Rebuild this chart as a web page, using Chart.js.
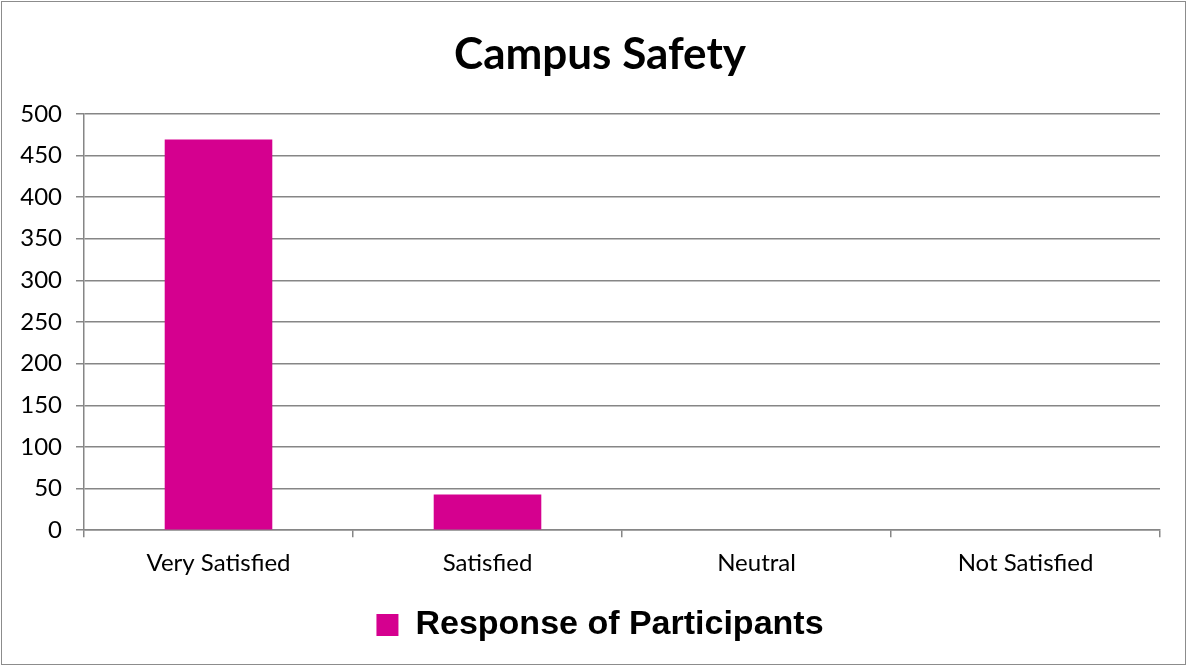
<!DOCTYPE html>
<html>
<head>
<meta charset="utf-8">
<script src="https://cdn.jsdelivr.net/npm/chart.js@4/dist/chart.umd.min.js"></script>
<style>
  html, body { margin: 0; padding: 0; background: #fff; }
  #wrap { width: 1187px; height: 666px; position: relative; }
</style>
</head>
<body>
<div id="wrap"><canvas id="c" width="1187" height="666"></canvas></div>
<script>
const categories = ["Very Satisfied", "Satisfied", "Neutral", "Not Satisfied"];
const responses = [469, 43, 0, 0];
const seriesName = "Response of Participants";
const chartTitle = "Campus Safety";
const yTicks = [0, 50, 100, 150, 200, 250, 300, 350, 400, 450, 500];

const borderPlugin = {
  id: 'outerBorder',
  afterDraw(chart) {
    const ctx = chart.ctx;
    ctx.save();
    ctx.strokeStyle = '#8c8c8c';
    ctx.lineWidth = 1;
    ctx.strokeRect(1.5, 1.5, chart.width - 3, chart.height - 3);
    ctx.restore();
  }
};

new Chart(document.getElementById('c'), {
  type: 'bar',
  data: {
    labels: categories,
    datasets: [{
      label: seriesName,
      data: responses,
      backgroundColor: '#d5008f',
      borderWidth: 0,
      categoryPercentage: 0.8,
      barPercentage: 0.5
    }]
  },
  options: {
    responsive: false,
    animation: false,
    layout: { padding: { left: 40, right: 27, top: 13, bottom: 14 } },
    plugins: {
      title: {
        display: true,
        text: chartTitle,
        color: '#000',
        font: { family: 'Lato, "Open Sans", sans-serif', size: 44, weight: 'bold' },
        padding: { top: 15, bottom: 33 }
      },
      legend: {
        position: 'bottom',
        labels: {
          color: '#000',
          boxWidth: 22,
          boxHeight: 22,
          padding: 18,
          font: { family: '"Liberation Sans", Arial, sans-serif', size: 34, weight: 'bold' }
        }
      },
      tooltip: { enabled: false }
    },
    scales: {
      x: {
        offset: true,
        grid: {
          offset: true,
          drawOnChartArea: false,
          drawTicks: true,
          tickLength: 7,
          color: '#868686',
          lineWidth: 1.5
        },
        border: { color: '#868686', width: 1.5 },
        ticks: {
          color: '#000',
          padding: 12,
          font: { family: 'Lato, "Open Sans", sans-serif', size: 24 }
        }
      },
      y: {
        min: 0,
        max: 500,
        afterBuildTicks(axis) { axis.ticks = yTicks.map(v => ({ value: v })); },
        afterFit(axis) {
          axis.width = 44;
          axis._computeLabelArea = function () { return undefined; };
        },
        grid: {
          color: '#868686',
          lineWidth: 1.5,
          tickLength: 8
        },
        border: { color: '#868686', width: 1.5 },
        ticks: {
          color: '#000',
          padding: 14,
          font: { family: 'Lato, "Open Sans", sans-serif', size: 24 }
        }
      }
    }
  },
  plugins: [borderPlugin]
});
</script>
</body>
</html>
